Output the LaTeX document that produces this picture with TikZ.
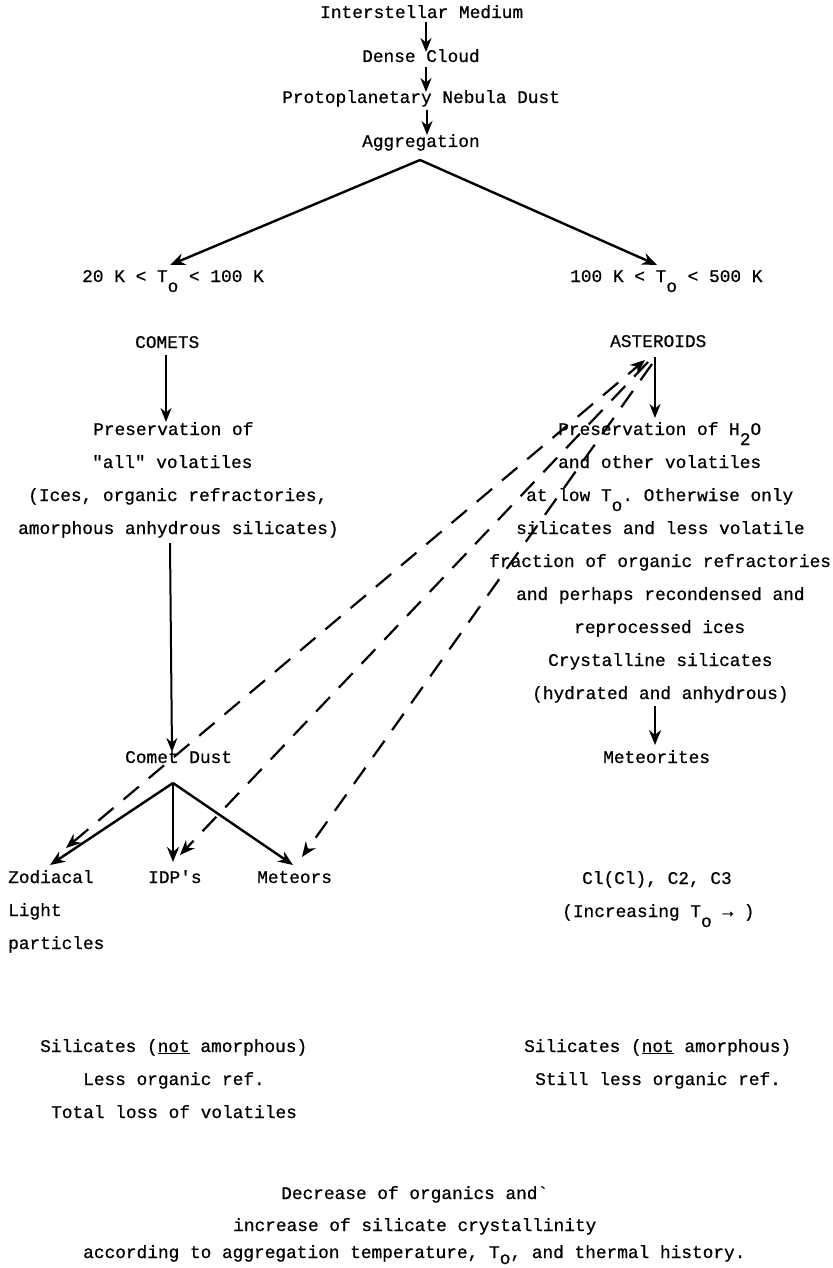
\documentclass[tikz,border=0pt]{standalone}
\usepackage{fontspec}
\setmonofont{Liberation Mono}[FakeBold=0.7]
\usetikzlibrary{arrows.meta}
\newcommand\lowsub[1]{\raisebox{-10pt}{#1}}
\begin{document}
\begin{tikzpicture}[x=1pt,y=-1pt,
  txt/.style={font=\ttfamily\fontsize{17.8}{20}\selectfont, inner sep=0pt, anchor=base west},
  arr/.style={line width=2.4pt, -{Stealth[length=15pt,width=12pt]}},
  tarr/.style={line width=2pt, -{Stealth[length=14pt,width=11pt]}},
  darr/.style={line width=2.2pt, dash pattern=on 20pt off 13pt, -{Stealth[length=15pt,width=12pt]}},
  ddarr/.style={line width=2.2pt, dash pattern=on 20pt off 13pt, {Stealth[length=15pt,width=12pt]}-{Stealth[length=15pt,width=12pt]}}
]
\useasboundingbox (0,0) rectangle (832,1268);

% top column
\node[txt] (im)  at (320,18)  {Interstellar Medium};
\node[txt] (dc)  at (362,62)  {Dense Cloud};
\node[txt] (pnd) at (282,103) {Protoplanetary Nebula Dust};
\node[txt] (agg) at (362,147) {Aggregation};

% temperature ranges
\node[txt] (t1) at (82,282)  {20 K < T\lowsub{o} < 100 K};
\node[txt] (t2) at (570,282) {100 K < T\lowsub{o} < 500 K};

\node[txt] (comets) at (135,348) {COMETS};
\node[txt] (ast)    at (610,347) {ASTEROIDS};

% comet block
\node[txt] (lp1) at (93,435) {Preservation of};
\node[txt] (lp2) at (92,468) {"all" volatiles};
\node[txt] (lp3) at (28,501) {(Ices, organic refractories,};
\node[txt] (lp4) at (18,534) {amorphous anhydrous silicates)};

% asteroid block
\node[txt] (rp1) at (558,435) {Preservation of H\lowsub{2}O};
\node[txt] (rp2) at (558,468) {and other volatiles};
\node[txt] (rp3) at (526,501) {at low T\lowsub{o}. Otherwise only};
\node[txt] (rp4) at (516,534) {silicates and less volatile};
\node[txt] (rp5) at (489,567) {fraction of organic refractories};
\node[txt] (rp6) at (516,600) {and perhaps recondensed and};
\node[txt] (rp7) at (574,633) {reprocessed ices};
\node[txt] (rp8) at (548,666) {Crystalline silicates};
\node[txt] (rp9) at (532,699) {(hydrated and anhydrous)};

\node[txt] (cd)  at (125,763) {Comet Dust};
\node[txt] (mtr) at (603,763) {Meteorites};

\node[txt] (zod) at (8,883)   {Zodiacal};
\node[txt] (zl2) at (8,916)   {Light};
\node[txt] (zl3) at (8,949)   {particles};
\node[txt] (idp) at (148,883) {IDP's};
\node[txt] (met) at (257,883) {Meteors};

\node[txt] (cl)  at (582,884) {Cl(Cl), C2, C3};
\node[txt] (inc) at (562,917) {(Increasing T\lowsub{o} → )};

% bottom blocks
\node[txt] (bl1) at (40,1052)  {Silicates (\underline{not} amorphous)};
\node[txt] (bl2) at (83,1085)  {Less organic ref.};
\node[txt] (bl3) at (51,1118)  {Total loss of volatiles};
\node[txt] (br1) at (524,1052) {Silicates (\underline{not} amorphous)};
\node[txt] (br2) at (535,1085) {Still less organic ref.};

\node[txt] (f1) at (281,1199) {Decrease of organics and`};
\node[txt] (f2) at (233,1231) {increase of silicate crystallinity};
\node[txt] (f3) at (83,1258)  {according to aggregation temperature, T\raisebox{-6pt}{o}, and thermal history.};

% connector end points
\coordinate (a1s) at (426,22);  \coordinate (a1e) at (426,52);
\coordinate (a2s) at (426,67);  \coordinate (a2e) at (426,92);
\coordinate (a3s) at (427,110); \coordinate (a3e) at (427,135);
\coordinate (br)  at (420,160);
\coordinate (t1e) at (170,265); \coordinate (t2e) at (657,265);
\coordinate (cs)  at (166,355); \coordinate (ce)  at (166,422);
\coordinate (as)  at (655,357); \coordinate (ae)  at (655,418);
\coordinate (ls)  at (170,543); \coordinate (le)  at (172,752);
\coordinate (ms)  at (655,706); \coordinate (me)  at (655,745);
\coordinate (cdb) at (173,783);
\coordinate (zte) at (50,865);  \coordinate (ite) at (173,862); \coordinate (mte) at (293,865);
\coordinate (d1t) at (645,360); \coordinate (d1b) at (66,848);
\coordinate (d2t) at (648,362); \coordinate (d2b) at (180,855);
\coordinate (d3t) at (652,364); \coordinate (d3b) at (302,857);

\draw[tarr] (a1s) -- (a1e);
\draw[tarr] (a2s) -- (a2e);
\draw[tarr] (a3s) -- (a3e);
\draw[arr] (br) -- (t1e);
\draw[arr] (br) -- (t2e);
\draw[tarr] (cs) -- (ce);
\draw[tarr] (as) -- (ae);
\draw[tarr] (ls) -- (le);
\draw[arr] (ms) -- (me);
\draw[arr] (cdb) -- (zte);
\draw[arr] (cdb) -- (ite);
\draw[arr] (cdb) -- (mte);
\draw[ddarr] (d1b) -- (d1t);
\draw[darr] (d2t) -- (d2b);
\draw[darr] (d3t) -- (d3b);
\end{tikzpicture}
\end{document}
